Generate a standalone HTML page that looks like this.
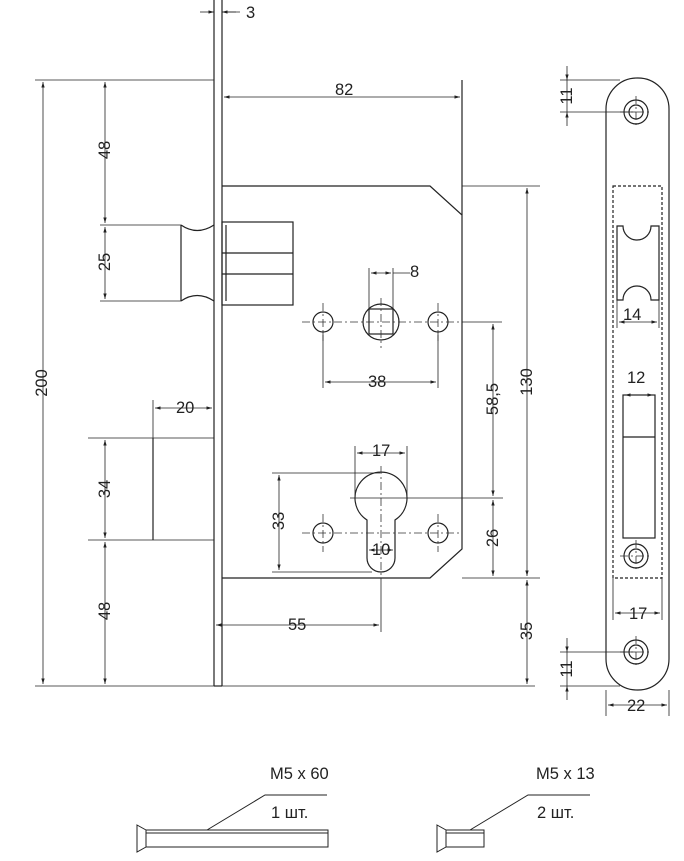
<!DOCTYPE html>
<html><head><meta charset="utf-8"><style>
html,body{margin:0;padding:0;background:#fff}
svg{display:block}
text{font-family:"Liberation Sans",sans-serif;font-size:16.5px;fill:#222}
</style></head><body>
<svg width="684" height="861" viewBox="0 0 684 861" xmlns="http://www.w3.org/2000/svg">
<defs>
<marker id="a" viewBox="0 0 10 10" refX="10" refY="5" markerWidth="7" markerHeight="7" orient="auto-start-reverse"><path d="M0,2 L10,5 L0,8 z" fill="#222"/></marker>
</defs>
<g stroke="#222" stroke-width="1.2" fill="none">
<line x1="214" y1="0" x2="214" y2="686"/>
<line x1="222" y1="0" x2="222" y2="686"/>
<line x1="214" y1="686" x2="222" y2="686"/>
<polyline points="222,186 430,186 462,215 462,549 430,578 222,578"/>
<line x1="462" y1="80" x2="462" y2="215"/>
<rect x="222" y="222" width="71" height="83"/>
<line x1="222" y1="253" x2="293" y2="253"/>
<line x1="222" y1="274" x2="293" y2="274"/>
<line x1="226" y1="225" x2="226" y2="301"/>
<line x1="181" y1="225" x2="181" y2="301"/>
<path d="M181,225 Q197,236 214,225"/>
<path d="M181,301 Q197,290 214,301"/>
<line x1="153" y1="438" x2="153" y2="540"/>
<circle cx="381" cy="322" r="18"/>
<rect x="369" y="309" width="24" height="25"/>
<circle cx="323" cy="322" r="10"/>
<circle cx="438" cy="322" r="10"/>
<circle cx="323" cy="533" r="10"/>
<circle cx="438" cy="533" r="10"/>
<path d="M367,520 A26,26 0 1 1 395,520 L395,558 A14,14 0 0 1 367,558 Z"/>
<rect x="606" y="78" width="63" height="612" rx="31" ry="31"/>
<rect x="613" y="186" width="49" height="392" stroke-dasharray="3,2"/>
<path d="M617,226 L623,226 A14,14 0 0 0 651,226 L659,226 L659,300 L651,300 A14,14 0 0 0 623,300 L617,300 Z"/>
<rect x="623" y="395" width="32" height="143"/>
<line x1="623" y1="437" x2="655" y2="437"/>
<circle cx="636" cy="112" r="12"/><circle cx="636" cy="112" r="7"/>
<circle cx="636" cy="556" r="12"/><circle cx="636" cy="556" r="7"/>
<circle cx="636" cy="652" r="12"/><circle cx="636" cy="652" r="7"/>
</g>
<g stroke="#333" stroke-width="0.8" stroke-dasharray="8,3,2,3" fill="none">
<line x1="302" y1="322" x2="460" y2="322"/>
<line x1="381" y1="298" x2="381" y2="348"/>
<line x1="323" y1="303" x2="323" y2="341"/>
<line x1="438" y1="303" x2="438" y2="341"/>
<line x1="302" y1="533" x2="460" y2="533"/>
<line x1="323" y1="514" x2="323" y2="552"/>
<line x1="438" y1="514" x2="438" y2="552"/>
<line x1="381" y1="466" x2="381" y2="578"/>
<line x1="620" y1="112" x2="652" y2="112"/><line x1="636" y1="96" x2="636" y2="128"/>
<line x1="620" y1="556" x2="652" y2="556"/><line x1="636" y1="540" x2="636" y2="572"/>
<line x1="620" y1="652" x2="652" y2="652"/><line x1="636" y1="636" x2="636" y2="668"/>
</g>
<g stroke="#222" stroke-width="0.8" fill="none">
<line x1="35" y1="80" x2="214" y2="80"/>
<line x1="35" y1="686" x2="214" y2="686"/>
<line x1="222" y1="686" x2="535" y2="686"/>
<line x1="462" y1="186" x2="540" y2="186"/>
<line x1="462" y1="578" x2="540" y2="578"/>
<line x1="100" y1="225" x2="181" y2="225"/>
<line x1="100" y1="301" x2="181" y2="301"/>
<line x1="88" y1="438" x2="214" y2="438"/>
<line x1="88" y1="540" x2="214" y2="540"/>
<line x1="153" y1="400" x2="153" y2="438"/>
<line x1="369" y1="268" x2="369" y2="309"/><line x1="393" y1="268" x2="393" y2="309"/>
<line x1="323" y1="332" x2="323" y2="388"/><line x1="438" y1="332" x2="438" y2="388"/>
<line x1="462" y1="322" x2="502" y2="322"/>
<line x1="350" y1="498" x2="503" y2="498"/>
<line x1="355" y1="446" x2="355" y2="498"/><line x1="407" y1="446" x2="407" y2="498"/>
<line x1="272" y1="473" x2="380" y2="473"/>
<line x1="272" y1="572" x2="372" y2="572"/>
<line x1="381" y1="578" x2="381" y2="632"/>
<line x1="214" y1="5" x2="214" y2="20"/>
<line x1="560" y1="80" x2="620" y2="80"/>
<line x1="560" y1="112" x2="636" y2="112"/>
<line x1="560" y1="652" x2="636" y2="652"/>
<line x1="560" y1="686" x2="620" y2="686"/>
<line x1="606" y1="690" x2="606" y2="716"/><line x1="669" y1="690" x2="669" y2="716"/>
<line x1="613" y1="578" x2="613" y2="620"/><line x1="662" y1="578" x2="662" y2="620"/>
<line x1="617" y1="300" x2="617" y2="328"/><line x1="659" y1="300" x2="659" y2="328"/>
</g>
<g stroke="#222" stroke-width="0.8" fill="none" marker-start="url(#a)" marker-end="url(#a)">
<line x1="43" y1="82" x2="43" y2="684"/>
<line x1="105" y1="82" x2="105" y2="223"/>
<line x1="105" y1="227" x2="105" y2="299"/>
<line x1="105" y1="440" x2="105" y2="538"/>
<line x1="105" y1="542" x2="105" y2="684"/>
<line x1="224" y1="97" x2="460" y2="97"/>
<line x1="155" y1="408" x2="212" y2="408"/>
<line x1="371" y1="273" x2="391" y2="273"/>
<line x1="325" y1="382" x2="436" y2="382"/>
<line x1="493" y1="324" x2="493" y2="496"/>
<line x1="493" y1="500" x2="493" y2="576"/>
<line x1="527" y1="188" x2="527" y2="576"/>
<line x1="527" y1="580" x2="527" y2="684"/>
<line x1="357" y1="453" x2="405" y2="453"/>
<line x1="279" y1="475" x2="279" y2="570"/>
<line x1="369" y1="550" x2="393" y2="550"/>
<line x1="216" y1="625" x2="379" y2="625"/>
<line x1="619" y1="322" x2="657" y2="322"/>
<line x1="625" y1="395" x2="653" y2="395"/>
<line x1="615" y1="613" x2="660" y2="613"/>
<line x1="608" y1="705" x2="667" y2="705"/>
</g>
<g stroke="#222" stroke-width="0.8" fill="none">
<line x1="200" y1="12" x2="214" y2="12" marker-end="url(#a)"/>
<line x1="236" y1="12" x2="222" y2="12" marker-end="url(#a)"/>
<line x1="222" y1="12" x2="240" y2="12"/>
<line x1="393" y1="273" x2="410" y2="273"/>
<line x1="567" y1="66" x2="567" y2="80" marker-end="url(#a)"/>
<line x1="567" y1="126" x2="567" y2="112" marker-end="url(#a)"/>
<line x1="567" y1="80" x2="567" y2="112"/>
<line x1="567" y1="638" x2="567" y2="652" marker-end="url(#a)"/>
<line x1="567" y1="700" x2="567" y2="686" marker-end="url(#a)"/>
<line x1="567" y1="652" x2="567" y2="686"/>
</g>
<text x="246" y="18">3</text>
<text x="335" y="95">82</text>
<text x="410" y="277">8</text>
<text x="368" y="387">38</text>
<text x="176" y="413">20</text>
<text x="372" y="456">17</text>
<text x="372" y="555">10</text>
<text x="288" y="630">55</text>
<text x="623" y="320">14</text>
<text x="627" y="383">12</text>
<text x="629" y="619">17</text>
<text x="627" y="711">22</text>
<text transform="translate(47,383) rotate(-90)" text-anchor="middle">200</text>
<text transform="translate(110,150) rotate(-90)" text-anchor="middle">48</text>
<text transform="translate(110,262) rotate(-90)" text-anchor="middle">25</text>
<text transform="translate(110,489) rotate(-90)" text-anchor="middle">34</text>
<text transform="translate(110,611) rotate(-90)" text-anchor="middle">48</text>
<text transform="translate(284,521) rotate(-90)" text-anchor="middle">33</text>
<text transform="translate(498,399) rotate(-90)" text-anchor="middle">58,5</text>
<text transform="translate(498,538) rotate(-90)" text-anchor="middle">26</text>
<text transform="translate(532,382) rotate(-90)" text-anchor="middle">130</text>
<text transform="translate(532,631) rotate(-90)" text-anchor="middle">35</text>
<text transform="translate(572,96) rotate(-90)" text-anchor="middle">11</text>
<text transform="translate(572,669) rotate(-90)" text-anchor="middle">11</text>
<g stroke="#222" stroke-width="1" fill="none">
<path d="M137,825 L146,830 L146,847 L137,852 Z"/>
<rect x="146" y="830" width="182" height="17"/>
<line x1="146" y1="833" x2="328" y2="833"/>
<polyline points="207,830 265,795 327,795"/>
<path d="M437,825 L446,830 L446,847 L437,852 Z"/>
<rect x="446" y="830" width="38" height="17"/>
<line x1="446" y1="833" x2="484" y2="833"/>
<polyline points="470,830 528,795 590,795"/>
</g>
<text x="270" y="779">M5 x 60</text>
<text x="271" y="818">1 шт.</text>
<text x="536" y="779">M5 x 13</text>
<text x="537" y="818">2 шт.</text>
</svg>
</body></html>
